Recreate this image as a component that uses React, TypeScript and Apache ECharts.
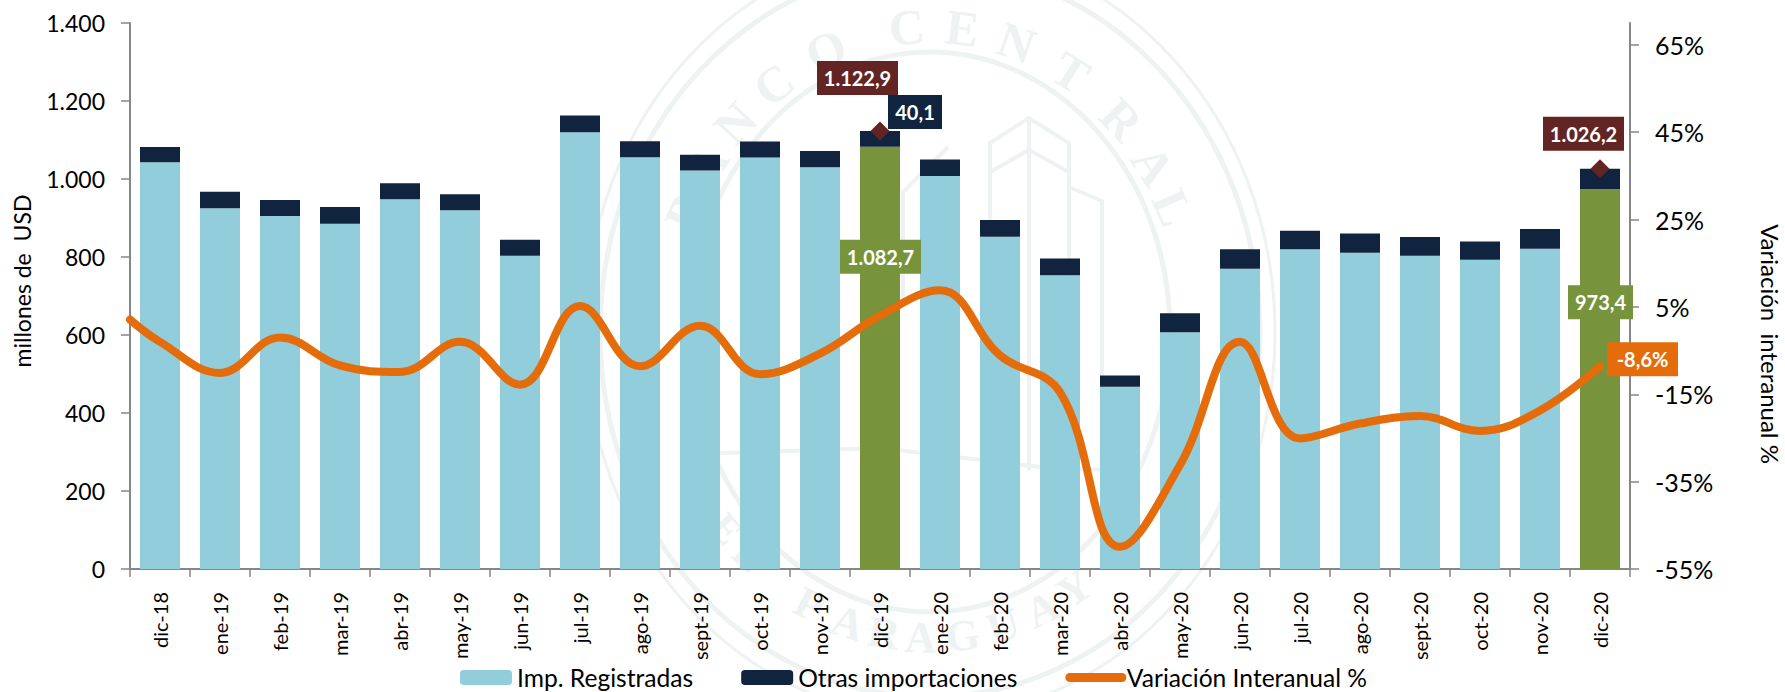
import React, { useEffect, useRef } from "react";
import * as echarts from "echarts";

const categories = ["dic-18","ene-19","feb-19","mar-19","abr-19","may-19","jun-19","jul-19","ago-19","sept-19","oct-19","nov-19","dic-19","ene-20","feb-20","mar-20","abr-20","may-20","jun-20","jul-20","ago-20","sept-20","oct-20","nov-20","dic-20"];
const registradas = [1043,925,905,885,948,920,803,1120,1056,1022,1055,1030,1082.7,1008,852,753,467,607,770,820,811,803,793,821,973.4];
const otras = [39,42,41,43,41,41,41,43,41,40,41,42,40.1,42,43,43,29,49,50,47,49,48,47,51,52.8];
const variacion = [-3.0,-10.1,-2.0,-8.4,-9.9,-3.0,-12.8,5.2,-8.6,0.7,-10.4,-5.7,3.0,8.8,-6.1,-14.5,-49.9,-31.2,-3.0,-25.1,-21.7,-20.0,-23.4,-18.7,-8.6];
const variacionInicio = 2.1;
const totales: (number | null)[] = categories.map(() => null);
totales[12] = 1122.9;
totales[24] = 1026.2;
const rightTicks = [-55,-35,-15,5,25,45,65];
const topLetters: [string, number][] = [["B",-67],["A",-57],["N",-47],["C",-36],["O",-23],["C",-5],["E",7],["N",19],["T",32],["R",46],["A",57],["L",66]];
const bottomLetters: [string, number][] = [["P",-27],["A",-18],["R",-10],["A",-2],["G",7],["U",16],["A",25],["Y",33]];
const delLetters: [string, number][] = [["D",-58],["E",-50],["L",-43]];

const FONT = "Lato";
const C_BLUE = "#92cddc", C_NAVY = "#10243f", C_GREEN = "#77933c", C_RED = "#632523", C_ORANGE = "#e46c0a", C_AXIS = "#868686", C_WM = "#eef2f2";

const box = (text: string, bg: string, w: number, offset: number[]) => ({
  show: true, position: "inside", formatter: text, offset,
  backgroundColor: bg, color: "#fff", fontFamily: FONT, fontWeight: "bold", fontSize: 20,
  width: w, height: 34, lineHeight: 34, align: "center", verticalAlign: "middle",
});

function watermark() {
  const cx = 930, cy = 332, rx = 266, ry = 306;
  const els: any[] = [];
  const ring = (a: number, b: number, w: number) => els.push({ type: "ellipse", silent: true, shape: { cx, cy, rx: a, ry: b }, style: { fill: "none", stroke: C_WM, lineWidth: w } });
  ring(330, 365, 5);
  ring(240, 280, 5);
  ring(345, 385, 3);
  const letter = (t: string, x: number, y: number, r: number, s: number) => els.push({ type: "text", silent: true, x, y, rotation: r, style: { text: t, fill: C_WM, font: `bold ${s}px "Liberation Serif"`, align: "center", verticalAlign: "middle" } });
  topLetters.forEach(([t, d]) => { const a = d * Math.PI / 180; letter(t, cx + rx * Math.sin(a), cy - ry * Math.cos(a), -a, 50); });
  bottomLetters.forEach(([t, d]) => { const a = d * Math.PI / 180; letter(t, cx + rx * Math.sin(a), cy + ry * Math.cos(a), a, 44); });
  delLetters.forEach(([t, d]) => { const a = d * Math.PI / 180; letter(t, cx + rx * Math.sin(a), cy + ry * Math.cos(a), a, 40); });
  const line = (pts: number[][]) => els.push({ type: "polyline", silent: true, shape: { points: pts }, style: { fill: "none", stroke: C_WM, lineWidth: 4 } });
  line([[990,470],[990,143],[1029,118],[1069,143],[1069,470]]);
  line([[990,172],[1029,150],[1069,172]]);
  line([[1029,118],[1029,470]]);
  line([[1069,187],[1102,201],[1102,446]]);
  line([[948,147],[903,192],[903,300]]);
  line([[720,453],[880,448],[1040,467],[1110,470]]);
  return els;
}

export default function App() {
  const ref = useRef<HTMLDivElement>(null);
  useEffect(() => {
    const chart = echarts.init(ref.current!, undefined, { renderer: "svg" });
    const thousand = (v: number) => (v >= 1000 ? `${Math.floor(v / 1000)}.${String(v % 1000).padStart(3, "0")}` : String(v));
    chart.setOption({
      animation: false,
      backgroundColor: "#ffffff",
      textStyle: { fontFamily: FONT },
      grid: { left: 130, right: 155, top: 23, bottom: 123 },
      xAxis: [
        {
          type: "category", data: categories, boundaryGap: true,
          axisLine: { lineStyle: { color: C_AXIS, width: 2 } },
          axisTick: { show: true, length: 8, alignWithLabel: false, lineStyle: { color: C_AXIS, width: 1.5 } },
          axisLabel: { interval: 0, rotate: 90, margin: 23, color: "#000", fontFamily: FONT, fontSize: 20 },
        },
        { type: "value", min: 0, max: 25, show: false },
      ],
      yAxis: [
        {
          type: "value", min: 0, max: 1400, interval: 200, splitLine: { show: false },
          axisLine: { show: true, lineStyle: { color: C_AXIS, width: 2 } },
          axisTick: { show: true, length: 9, lineStyle: { color: C_AXIS, width: 1.5 } },
          axisLabel: { margin: 25, color: "#000", fontFamily: FONT, fontSize: 23, formatter: thousand },
        },
        {
          type: "value", min: -55, max: 70, position: "right", splitLine: { show: false },
          axisLine: { show: true, lineStyle: { color: C_AXIS, width: 2 } },
          axisTick: { show: true, length: 9, customValues: rightTicks, lineStyle: { color: C_AXIS, width: 1.5 } },
          axisLabel: { margin: 25, color: "#000", fontFamily: FONT, fontSize: 25, customValues: rightTicks, formatter: (v: number) => `${v}%` },
        },
      ],
      legend: {
        left: 460, top: 665, padding: 0, itemWidth: 52, itemHeight: 15, itemGap: 48,
        textStyle: { color: "#000", fontFamily: FONT, fontSize: 24.6 },
        data: [
          "Imp. Registradas",
          "Otras importaciones",
          { name: "Variación Interanual %", itemStyle: { opacity: 0 }, lineStyle: { color: C_ORANGE, width: 9, cap: "round" } },
        ],
      },
      graphic: [
        ...watermark(),
        { type: "text", silent: true, x: 22, y: 281, rotation: Math.PI / 2, style: { text: "millones de  USD", fill: "#000", font: `23px ${FONT}`, align: "center", verticalAlign: "middle" } },
        { type: "text", silent: true, x: 1770, y: 344, rotation: -Math.PI / 2, style: { text: "Variación  interanual %", fill: "#000", font: `24px ${FONT}`, align: "center", verticalAlign: "middle" } },
      ],
      series: [
        {
          name: "Imp. Registradas", type: "bar", stack: "t", barWidth: 40, z: 2, itemStyle: { color: C_BLUE },
          data: registradas.map((v, i) =>
            i === 12 ? { value: v, itemStyle: { color: C_GREEN }, label: box("1.082,7", C_GREEN, 81, [0.5, -101]) }
            : i === 24 ? { value: v, itemStyle: { color: C_GREEN }, label: box("973,4", C_GREEN, 65, [0.5, -77]) }
            : v),
        },
        {
          name: "Otras importaciones", type: "bar", stack: "t", barWidth: 40, z: 2, itemStyle: { color: C_NAVY },
          data: otras.map((v, i) => (i === 12 ? { value: v, label: box("40,1", C_NAVY, 54, [35, -27]) } : v)),
        },
        {
          name: "Variación Interanual %", type: "line", xAxisIndex: 1, yAxisIndex: 1, z: 3, smooth: 0.4, symbol: "none",
          lineStyle: { color: C_ORANGE, width: 8, cap: "round", join: "round" }, itemStyle: { color: C_ORANGE },
          data: [[0, variacionInicio], ...variacion.map((v, i) => [i + 0.5, v])],
        },
        {
          name: "Variación final", type: "scatter", xAxisIndex: 1, yAxisIndex: 1, z: 5, symbol: "circle", symbolSize: 1,
          itemStyle: { color: C_ORANGE, opacity: 1 },
          data: [{ value: [24.5, variacion[24]], label: box("-8,6%", C_ORANGE, 71, [42.5, -7]) }],
        },
        {
          name: "Total", type: "scatter", z: 4, symbol: "diamond", symbolSize: 19, itemStyle: { color: C_RED, opacity: 1 },
          data: totales.map((v, i) =>
            v === null ? null
            : i === 12 ? { value: v, label: box("1.122,9", C_RED, 81, [-22.5, -53]) }
            : { value: v, label: box("1.026,2", C_RED, 81, [-16.5, -35]) }),
        },
      ],
    });
    return () => chart.dispose();
  }, []);
  return <div ref={ref} style={{ position: "absolute", left: 0, top: 0, width: 1785, height: 692 }} />;
}
